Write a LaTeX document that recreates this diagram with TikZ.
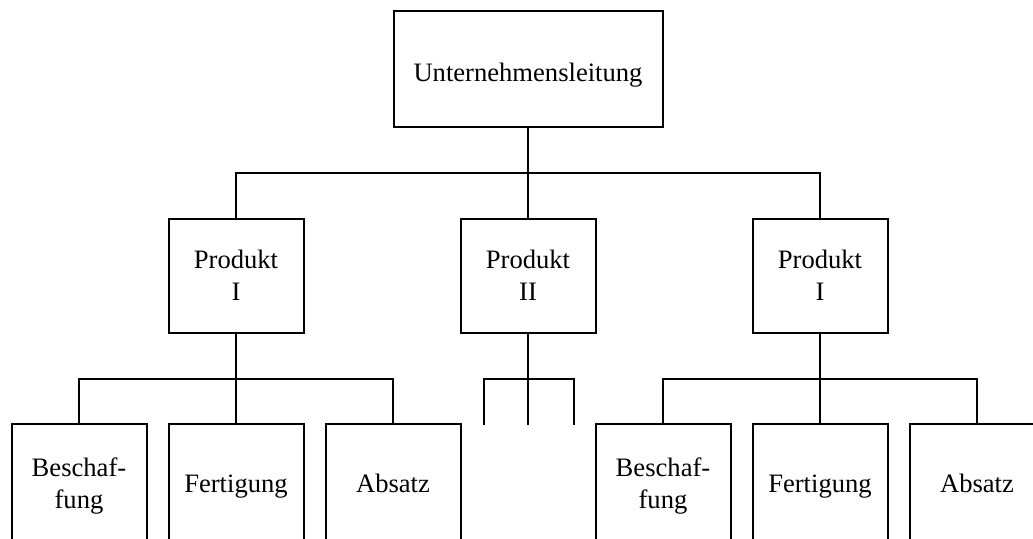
\documentclass[tikz,border=0pt]{standalone}
\usepackage{fontspec}
\setmainfont{Liberation Serif}
\begin{document}
\begin{tikzpicture}[x=1pt,y=-1pt,
  orgbox/.style={draw, line width=2pt, rectangle, inner sep=0pt, align=center,
    minimum width=135pt, text height=20pt, text depth=4pt,
    font=\fontsize{26.6}{32}\selectfont},
  twoline/.style={text height=52pt, text depth=4pt},
  prodbox/.style={orgbox, twoline, minimum height=114pt},
  leafbox/.style={orgbox, minimum height=120pt},
  conn/.style={line width=2pt}]
\useasboundingbox (0,0) rectangle (1033,538);
\clip (0,0) rectangle (1033,538);

\node[orgbox, minimum width=269pt, minimum height=116pt, text height=31pt, text depth=6pt] (top) at (528,69) {Unternehmensleitung};

\node[prodbox] (p1) at (236,276) {Produkt\\I};
\node[prodbox] (p2) at (528,276) {Produkt\\II};
\node[prodbox] (p3) at (820,276) {Produkt\\I};

\node[leafbox, twoline] (b1) at (79,484) {Beschaf-\\fung};
\node[leafbox] (f1) at (236,484) {Fertigung};
\node[leafbox] (a1) at (393,484) {Absatz};

\node[leafbox, twoline] (b3) at (663,484) {Beschaf-\\fung};
\node[leafbox] (f3) at (820,484) {Fertigung};
\node[leafbox] (a3) at (977,484) {Absatz};

\coordinate (bus1) at (528,173);
\coordinate (bus2) at (236,379);
\coordinate (bus3) at (528,379);
\coordinate (bus4) at (820,379);
\coordinate (m1) at (484,425);
\coordinate (m2) at (528,425);
\coordinate (m3) at (574,425);

\draw[conn] (top.south) -- (bus1);
\draw[conn] (p1.north) |- (bus1) -| (p3.north);
\draw[conn] (bus1) -- (p2.north);

\draw[conn] (p1.south) -- (bus2);
\draw[conn] (b1.north) |- (bus2) -| (a1.north);
\draw[conn] (bus2) -- (f1.north);

\draw[conn] (p2.south) -- (bus3);
\draw[conn] (m1) |- (bus3) -| (m3);
\draw[conn] (bus3) -- (m2);

\draw[conn] (p3.south) -- (bus4);
\draw[conn] (b3.north) |- (bus4) -| (a3.north);
\draw[conn] (bus4) -- (f3.north);
\end{tikzpicture}
\end{document}
